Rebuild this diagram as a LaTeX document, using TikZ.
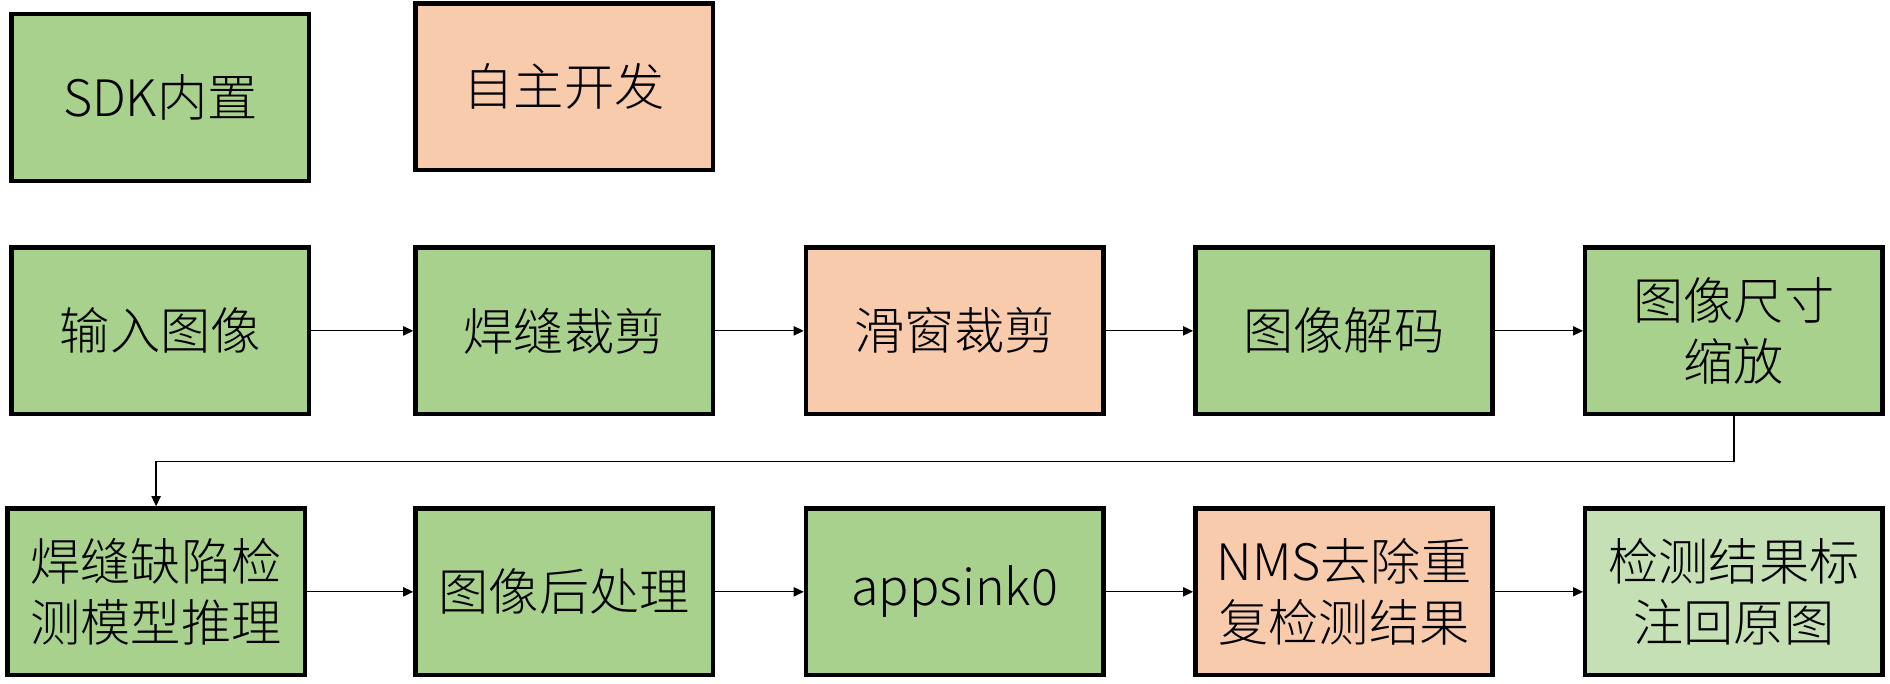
\documentclass[tikz,border=0pt]{standalone}
\usepackage{fontspec}
\setmainfont{Noto Sans CJK SC}[UprightFont={* Light}]
\usetikzlibrary{arrows.meta}
\definecolor{sdkgreen}{HTML}{A9D18E}
\definecolor{owngold}{HTML}{F8CBAD}
\definecolor{paleg}{HTML}{C5E0B4}
\begin{document}
\begin{tikzpicture}[x=0.6pt,y=0.6pt,
    box/.style={draw=black, line width=2.2pt, minimum width=148pt, minimum height=83pt,
      align=center, inner sep=0pt, font=\fontsize{25}{30}\selectfont},
    sdk/.style={box, fill=sdkgreen},
    own/.style={box, fill=owngold},
    mark0/.style={box, fill=paleg},
    arr/.style={-{Triangle[length=5pt,width=4.6pt]}, line width=0.6pt}]
        \useasboundingbox (0,0) rectangle (1568,-567);
        % legend
        \node[sdk] (legsdk) at (133,-81) {SDK内置};
        \node[own] (legown) at (468,-72) {自主开发};
        % first row
        \node[sdk] (input) at (133,-274.5) {输入图像};
        \node[sdk] (weld) at (468,-274.5) {焊缝裁剪};
        \node[own] (slide) at (792,-274.5) {滑窗裁剪};
        \node[sdk] (decode) at (1115,-274.5) {图像解码};
        \node[sdk] (resize) at (1438.5,-274.5) {图像尺寸\\缩放};
        % second row
        \node[sdk] (infer) at (129.5,-491) {焊缝缺陷检\\测模型推理};
        \node[sdk] (post) at (468,-491) {图像后处理};
        \node[sdk] (sink) at (792,-491) {appsink0};
        \node[own] (nms) at (1115,-491) {NMS去除重\\复检测结果};
        \node[mark0] (draw) at (1438.5,-491) {检测结果标\\注回原图};
        \coordinate (turn) at (1438.5,-383);
        \draw[arr] (input) -- (weld);
        \draw[arr] (weld) -- (slide);
        \draw[arr] (slide) -- (decode);
        \draw[arr] (decode) -- (resize);
        \draw[arr] (resize.south) -- (turn) -| (infer.north);
        \draw[arr] (infer) -- (post);
        \draw[arr] (post) -- (sink);
        \draw[arr] (sink) -- (nms);
        \draw[arr] (nms) -- (draw);
\end{tikzpicture}
\end{document}
